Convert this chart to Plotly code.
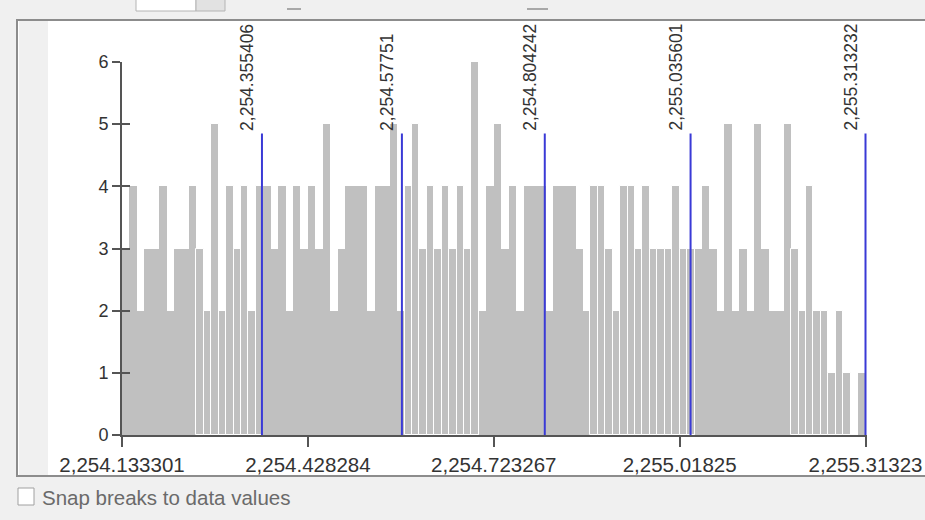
import plotly.graph_objects as go

# ---------------- data ----------------
x_min = 2254.133301
x_max = 2255.313232
counts = [3, 4, 2, 3, 3, 4, 2, 3, 3, 4, 3, 2, 5, 2, 4, 3, 4,
          2, 4, 4, 3, 4, 2, 4, 3, 4, 3, 5, 2, 3, 4, 4, 4,
          2, 4, 4, 5, 2, 4, 5, 3, 4, 3, 4, 3, 4, 3, 6, 2, 4,
          5, 3, 4, 2, 4, 4, 4, 2, 4, 4, 4, 3, 2, 4, 4, 3, 2,
          4, 4, 3, 4, 3, 3, 3, 4, 3, 3, 3, 4, 3, 2, 5, 2, 3,
          2, 5, 3, 2, 2, 5, 3, 2, 4, 2, 2, 1, 2, 1, 0, 1]
breaks = [2254.355406, 2254.57751, 2254.804242, 2255.035601, 2255.313232]
break_labels = ["2,254.355406", "2,254.57751", "2,254.804242",
                "2,255.035601", "2,255.313232"]
x_tickvals = [2254.133301, 2254.428284, 2254.723267, 2255.01825, 2255.31323]
x_ticktext = ["2,254.133301", "2,254.428284", "2,254.723267",
              "2,255.01825", "2,255.31323"]
y_tickvals = [0, 1, 2, 3, 4, 5, 6]

# ---------------- styling ----------------
BAR = "#c0c0c0"
BLUE = "#3a3ad6"
AXIS = "#555555"
TXT = "#333333"
FONT = "Liberation Sans, Arial, sans-serif"
break_top = 4.85
gap_ranges = [(10, 18), (38, 47), (63, 76), (90, 98)]

n = len(counts)
bw = (x_max - x_min) / n
centers = [x_min + (i + 0.5) * bw for i in range(n)]
line_w = [1 if any(a <= i <= b for a, b in gap_ranges) else 0 for i in range(n)]
x_hi = x_max + bw * 0.2  # tiny pad so the last break line is not clipped

fig = go.Figure()
fig.add_trace(go.Bar(x=centers, y=counts, width=bw,
                     marker=dict(color=BAR, line=dict(color="white", width=line_w)),
                     hoverinfo="skip", showlegend=False))

lx, ly = [], []
for b in breaks:
    lx += [b, b, None]
    ly += [0, break_top, None]
fig.add_trace(go.Scatter(x=lx, y=ly, mode="lines",
                         line=dict(color=BLUE, width=2),
                         hoverinfo="skip", showlegend=False))
# invisible trace to activate the overlay axis for crossing ticks
fig.add_trace(go.Scatter(x=[x_min], y=[0], yaxis="y2", mode="markers",
                         marker=dict(opacity=0), hoverinfo="skip", showlegend=False))

L, R_, T, B = 122, 867, 62, 435
def px(p):
    return (p - L) / (R_ - L)
def py(p):
    return (B - p) / (B - T)

annotations = []
for b, t in zip(breaks, break_labels):
    annotations.append(dict(x=b, y=break_top, xref="x", yref="y", text=t,
                            textangle=-90, showarrow=False, xanchor="right",
                            yanchor="bottom", xshift=-3, yshift=1,
                            font=dict(family=FONT, size=17.5, color=TXT)))
annotations.append(dict(x=px(40), y=py(497), xref="paper", yref="paper",
                        text="Snap breaks to data values",
                        showarrow=False, xanchor="left", yanchor="middle",
                        font=dict(family=FONT, size=20.5, color="#6a6a6a")))

shapes = [
    dict(type="rect", xref="paper", yref="paper", x0=px(17), x1=px(940), y0=py(20), y1=py(476),
         fillcolor="white", line=dict(color="#8c8c8c", width=2), layer="below"),
    dict(type="rect", xref="paper", yref="paper", x0=px(19), x1=px(48), y0=py(21), y1=py(475),
         fillcolor="#f0f0f0", line=dict(width=0), layer="below"),
    dict(type="rect", xref="paper", yref="paper", x0=px(136), x1=px(196), y0=py(-3), y1=py(11),
         fillcolor="#ffffff", line=dict(color="#b4b4b4", width=1), layer="below"),
    dict(type="rect", xref="paper", yref="paper", x0=px(196), x1=px(225), y0=py(-3), y1=py(11),
         fillcolor="#e2e2e2", line=dict(color="#b4b4b4", width=1), layer="below"),
    dict(type="line", xref="paper", yref="paper", x0=px(287), x1=px(301), y0=py(9), y1=py(9),
         line=dict(color="#a8a8a8", width=2), layer="below"),
    dict(type="line", xref="paper", yref="paper", x0=px(527), x1=px(548), y0=py(9), y1=py(9),
         line=dict(color="#a8a8a8", width=2), layer="below"),
    dict(type="rect", xref="paper", yref="paper", x0=px(18), x1=px(34), y0=py(488), y1=py(505),
         fillcolor="white", line=dict(color="#a0a0a0", width=1), layer="below"),
]

fig.update_layout(
    width=925, height=520,
    margin=dict(l=L, r=925 - R_, t=T, b=520 - B, autoexpand=False),
    paper_bgcolor="#f0f0f0", plot_bgcolor="white",
    bargap=0, showlegend=False,
    font=dict(family=FONT, color=TXT),
    xaxis=dict(range=[x_min, x_hi], tickvals=x_tickvals, ticktext=x_ticktext,
               showgrid=False, zeroline=False, showline=True, linecolor=AXIS, linewidth=2,
               ticks="outside", ticklen=10, tickwidth=2, tickcolor=AXIS,
               ticklabeloverflow="allow",
               tickfont=dict(family=FONT, size=20.5, color=TXT)),
    yaxis=dict(range=[0, 6], tickvals=y_tickvals,
               showgrid=False, zeroline=False, showline=True, linecolor=AXIS, linewidth=2,
               ticks="outside", ticklen=8, tickwidth=2, tickcolor=AXIS,
               tickfont=dict(family=FONT, size=18, color=TXT)),
    yaxis2=dict(range=[0, 6], tickvals=y_tickvals, overlaying="y", side="left", anchor="x",
                showgrid=False, zeroline=False, showline=False, showticklabels=False,
                ticks="inside", ticklen=8, tickwidth=2, tickcolor=AXIS),
    shapes=shapes,
    annotations=annotations,
)

fig.write_html("out.html")
